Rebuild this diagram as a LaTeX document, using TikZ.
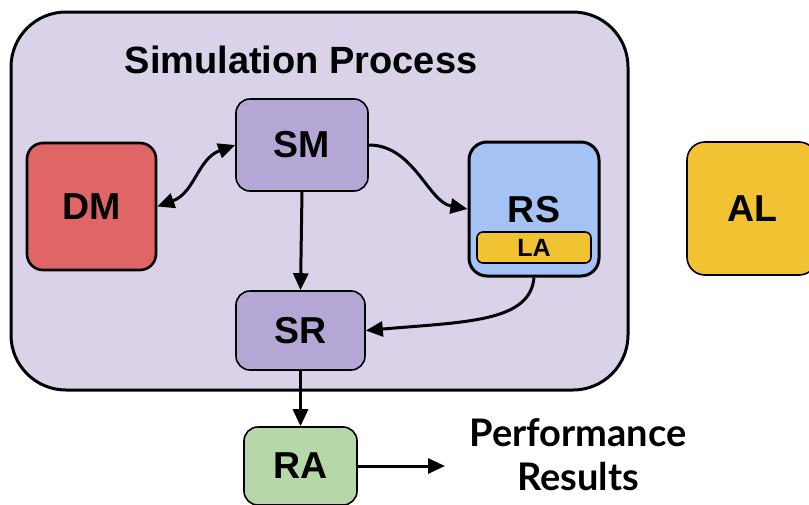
\documentclass[tikz,border=0pt]{standalone}
\usepackage{fontspec}
\setmainfont{Liberation Sans}
\newfontfamily\latofont{Lato}
\usetikzlibrary{arrows.meta}
\definecolor{bgpurple}{HTML}{D9D2E9}
\definecolor{midpurple}{HTML}{B4A7D6}
\definecolor{dmred}{HTML}{E06666}
\definecolor{rsblue}{HTML}{A4C2F4}
\definecolor{yel}{HTML}{F1C232}
\definecolor{ragreen}{HTML}{B6D7A8}
\tikzset{
  box/.style={draw=black, rectangle, rounded corners=14pt, line width=1.6pt, inner sep=0pt,
    font=\fontsize{37.5}{40}\selectfont\bfseries},
  conn/.style={line width=3pt, -{Triangle[length=17pt,width=15pt]}},
  bconn/.style={line width=3pt, {Triangle[length=17pt,width=15pt]}-{Triangle[length=17pt,width=15pt]}},
}
\begin{document}
\begin{tikzpicture}[x=1pt,y=-1pt]
\useasboundingbox (0,0) rectangle (809,504);
\node[draw=black, fill=bgpurple, rectangle, rounded corners=55pt, line width=3pt,
  minimum width=617pt, minimum height=378pt] (proc) at (319.5,201) {};
\node[font=\fontsize{38}{40}\selectfont\bfseries] (title) at (301,60) {Simulation Process};
\node[box, fill=dmred, line width=2.6pt, rounded corners=16pt, minimum width=129pt, minimum height=127pt] (DM) at (91.5,206.5) {DM};
\node[box, fill=midpurple, minimum width=132pt, minimum height=92pt] (SM) at (302,145) {SM};
\node[box, fill=rsblue, line width=3pt, rounded corners=18pt, minimum width=130pt, minimum height=134pt] (RS) at (534,209) {};
\node[font=\fontsize{37.5}{40}\selectfont\bfseries] (RSl) at (534,210) {RS};
\node[box, fill=yel, rounded corners=6pt, minimum width=114pt, minimum height=31pt,
  font=\fontsize{25}{28}\selectfont\bfseries] (LA) at (534,247.5) {LA};
\node[box, fill=yel, rounded corners=18pt, minimum width=130pt, minimum height=133pt] (AL) at (752,208.5) {AL};
\node[box, fill=midpurple, minimum width=129pt, minimum height=79pt] (SR) at (300.5,330.5) {SR};
\node[box, fill=ragreen, minimum width=113pt, minimum height=78pt] (RA) at (300.5,466) {RA};
\node[font=\latofont\fontsize{38}{44}\selectfont\bfseries, align=center] (perf) at (578,455) {Performance\\Results};
\coordinate (perfin) at (445,466);

\draw[bconn] (SM.west) .. controls +(160:40) and +(340:40) .. (DM.east);
\draw[conn] (SM.east) .. controls +(0:45) and +(190:40) .. (RS.west);
\draw[conn] (SM.south) -- (SR.north);
\draw[conn] (RS.south) .. controls +(95:45) and +(355:100) .. (SR.east);
\draw[conn] (SR.south) -- (RA.north);
\draw[conn] (RA.east) -- (perfin);
\end{tikzpicture}
\end{document}
